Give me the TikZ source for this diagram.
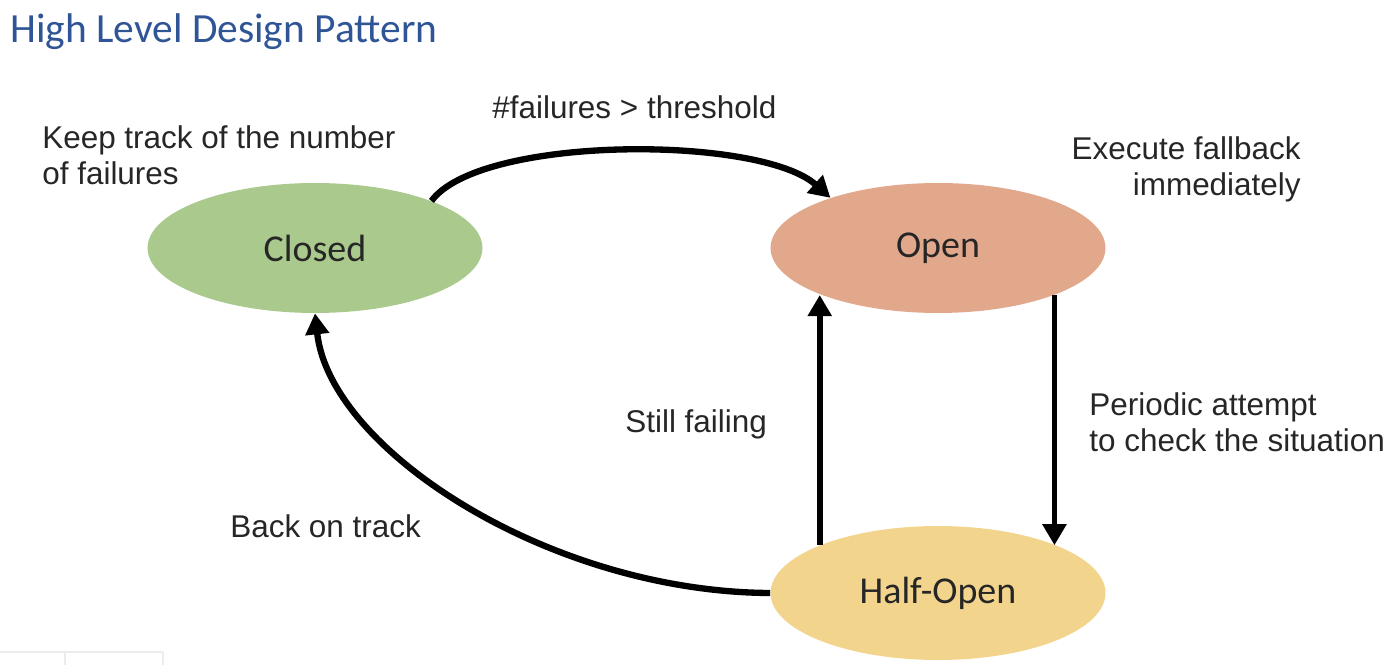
\documentclass[tikz,border=0pt]{standalone}
\usepackage{fontspec}
\setmainfont{Liberation Sans}
\newfontfamily\calfont{Carlito}
\usetikzlibrary{shapes.geometric,arrows.meta}
\definecolor{titleblue}{RGB}{47,85,151}
\definecolor{closedgreen}{RGB}{169,201,141}
\definecolor{opensalmon}{RGB}{226,168,140}
\definecolor{halfyellow}{RGB}{243,212,140}
\newcommand{\notesize}{\fontsize{17.9}{20.6}\selectfont}
\tikzstyle{state} = [ellipse, inner sep=0pt, minimum width=6.7cm, minimum height=2.6cm, text=black!85, font=\calfont\fontsize{21.6}{24}\selectfont]
\tikzstyle{note} = [inner sep=0pt, text=black!85, font=\notesize]
\tikzstyle{flow} = [line width=3.2pt, -{Triangle[length=0.42cm, width=0.46cm]}]

\begin{document}
\begin{tikzpicture}[x=0.02cm, y=-0.02cm]
			\useasboundingbox (0,0) rectangle (1396,665);
			\node [anchor=base west, inner sep=0pt, text=titleblue, font=\calfont\fontsize{23.6}{28}\selectfont] (title) at (10,43) {High Level Design Pattern};
			\node [state, fill=closedgreen] (closed) at (315,248) {Closed};
			\node [state, fill=opensalmon] (open) at (938,248) {Open};
			\node [state, fill=halfyellow, minimum height=2.68cm] (half) at (938,593) {Half-Open};
			\node [note, anchor=north west, align=left] (keep) at (42,125) {Keep track of the number\\of failures};
			\node [note, anchor=north east, align=right] (exec) at (1301,136) {Execute fallback\\immediately};
			\node [note, anchor=north west, align=left] (periodic) at (1089,392) {Periodic attempt\\to check the situation};
			\node [note, anchor=base west] (thresh) at (492,119) {\#failures > threshold};
			\node [note, anchor=base west] (still) at (625,432) {Still failing};
			\node [note, anchor=base west] (back) at (230,537) {Back on track};
			\draw [flow, line width=3.6pt] (closed.22) .. controls (480,135) and (760,135) .. (open.155);
			\draw [flow] (half.158) -- (half.158 |- open.202);
			\draw [flow] (open.338) -- (open.338 |- half.22);
			\draw [flow, line width=3.6pt] (half.west) .. controls (550,592) and (330,450) .. (closed.south);
			\draw [gray!15, line width=1.2pt] (0,652) -- (163,652) (65,652) -- (65,665) (163,652) -- (163,665);
		\end{tikzpicture}
\end{document}
